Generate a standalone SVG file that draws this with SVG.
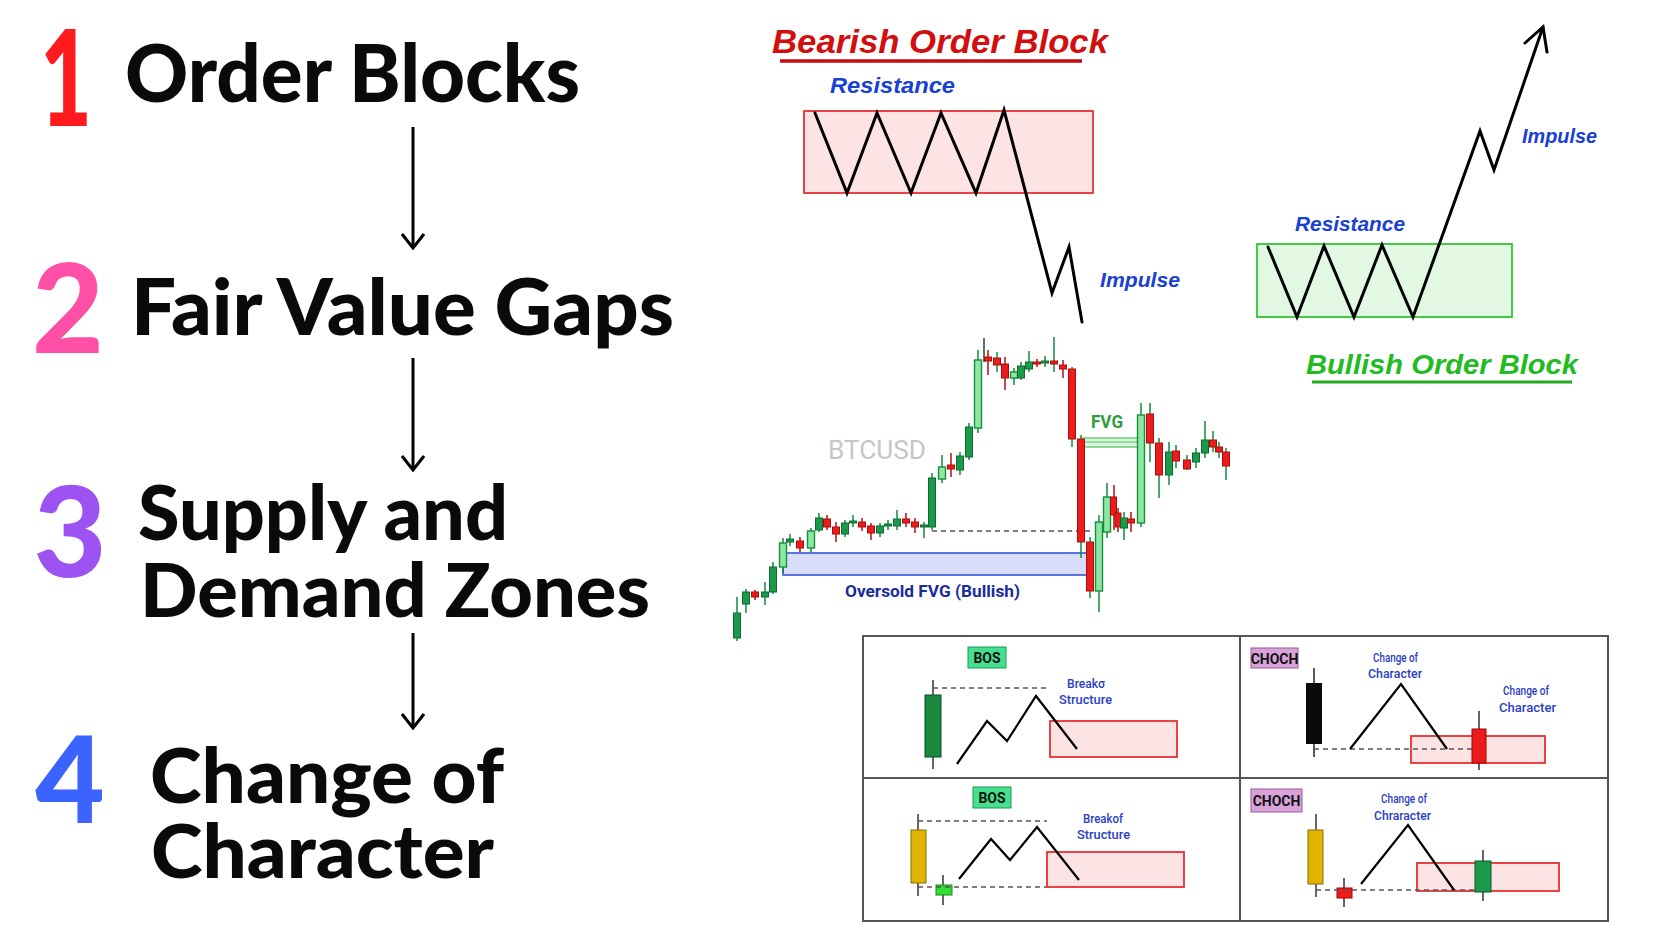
<svg xmlns="http://www.w3.org/2000/svg" width="1672" height="941" viewBox="0 0 1672 941">
<defs>
<style>
.h{font-family:Lato,"Open Sans","Liberation Sans",sans-serif;font-weight:900;fill:#0a0a0a}
.n{font-family:Lato,"Open Sans","Liberation Sans",sans-serif;font-weight:900}
.it{font-family:"Liberation Sans",Arial,sans-serif;font-weight:700;font-style:italic}
.lbl{font-family:Roboto,"Liberation Sans",sans-serif;font-weight:700}
.sm{font-family:Roboto,"Liberation Sans",sans-serif;font-weight:500;fill:#2a40c4}
.zz{fill:none;stroke:#000;stroke-width:3;stroke-linejoin:miter;stroke-linecap:round}
.zs{fill:none;stroke:#000;stroke-width:2.2;stroke-linejoin:miter}
.dash{stroke:#555;stroke-width:1.6;stroke-dasharray:5 4;fill:none}
.w{stroke:#158a3e;stroke-width:1.5}
.wr{stroke:#b01010;stroke-width:1.5}
.g{fill:#1a9a4a;stroke:#0d6a2e;stroke-width:1}
.gl{fill:#8ee6a0;stroke:#139040;stroke-width:1.4}
.r{fill:#ec1c1c;stroke:#a80e0e;stroke-width:1}
.zr{fill:#fde4e4;stroke:#e83030;stroke-width:1.8}
.arr{stroke:#000;stroke-width:3;fill:none}
</style>
<marker id="ah" viewBox="0 0 18 24" refX="16" refY="12" markerWidth="18" markerHeight="24" markerUnits="userSpaceOnUse" orient="auto">
<path d="M2 1 L16 12 L2 23" fill="none" stroke="#000" stroke-width="3"/>
</marker>
</defs>
<rect width="1672" height="941" fill="#ffffff"/>

<!-- Left list nodes -->
<g id="node-1">
<text class="n" x="40" y="126" font-size="134" fill="#ff1a1f" textLength="52" lengthAdjust="spacingAndGlyphs">1</text>
<text class="h" x="125" y="102" font-size="80" textLength="455" lengthAdjust="spacingAndGlyphs">Order Blocks</text>
</g>
<g id="node-2">
<text class="n" x="68" y="353" font-size="124" text-anchor="middle" fill="#ff4fa6">2</text>
<text class="h" x="131" y="335" font-size="78" textLength="543" lengthAdjust="spacingAndGlyphs">Fair Value Gaps</text>
</g>
<g id="node-3">
<text class="n" x="70" y="577" font-size="126" text-anchor="middle" fill="#9d52f2">3</text>
<text class="h" x="138" y="540" font-size="77" textLength="370" lengthAdjust="spacingAndGlyphs">Supply and</text>
<text class="h" x="140" y="617" font-size="74" textLength="510" lengthAdjust="spacingAndGlyphs">Demand Zones</text>
</g>
<g id="node-4">
<text class="n" x="70" y="823" font-size="120" text-anchor="middle" fill="#3a63ff">4</text>
<text class="h" x="150" y="803" font-size="76" textLength="354" lengthAdjust="spacingAndGlyphs">Change of</text>
<text class="h" x="151" y="878" font-size="74" textLength="343" lengthAdjust="spacingAndGlyphs">Character</text>
</g>

<g id="connectors">
<line class="arr" x1="413" y1="127" x2="413" y2="248" marker-end="url(#ah)"/>
<line class="arr" x1="413" y1="358" x2="413" y2="470" marker-end="url(#ah)"/>
<line class="arr" x1="413" y1="633" x2="413" y2="728" marker-end="url(#ah)"/>
</g>

<!-- Bearish order block -->
<g id="bearish-ob">
<text class="it" x="772" y="53" font-size="34" fill="#d10f0f" textLength="336" lengthAdjust="spacingAndGlyphs">Bearish Order Block</text>
<line x1="780" y1="61" x2="1082" y2="61" stroke="#c40c0c" stroke-width="3.5"/>
<text class="it" x="830" y="93" font-size="22" fill="#1740d6" textLength="125" lengthAdjust="spacingAndGlyphs">Resistance</text>
<rect class="zr" x="804" y="111" width="289" height="82"/>
<polyline class="zz" points="815,113 847,193 877,113 911,193 941,113 976,193 1004,110 1052,293 1069,247 1082,322"/>
<text class="it" x="1100" y="287" font-size="20" fill="#1740d6" textLength="80" lengthAdjust="spacingAndGlyphs">Impulse</text>
</g>

<!-- Bullish order block -->
<g id="bullish-ob">
<text class="it" x="1295" y="231" font-size="20" fill="#1740d6" textLength="110" lengthAdjust="spacingAndGlyphs">Resistance</text>
<rect x="1257" y="244" width="255" height="73" fill="#e2f8e2" stroke="#33c433" stroke-width="1.8"/>
<polyline class="zz" points="1268,247 1297,317 1324,246 1354,317 1382,245 1413,317 1480,131 1494,170 1543,27"/>
<polyline class="zz" points="1525,43 1543,27 1547,52"/>
<text class="it" x="1522" y="143" font-size="20" fill="#1740d6" textLength="75" lengthAdjust="spacingAndGlyphs">Impulse</text>
<text class="it" x="1306" y="374" font-size="28" fill="#22bb22" textLength="272" lengthAdjust="spacingAndGlyphs">Bullish Order Block</text>
<line x1="1312" y1="382" x2="1572" y2="382" stroke="#22aa22" stroke-width="3"/>
</g>

<!-- BTCUSD chart -->
<g id="btc-chart">
<text x="828" y="459" font-family="Roboto,'Liberation Sans',sans-serif" font-size="26" fill="#c6c6c6" textLength="98" lengthAdjust="spacingAndGlyphs">BTCUSD</text>
<rect x="783" y="553" width="310" height="22" fill="#d8def9" stroke="#3656e0" stroke-width="1.6"/>
<line class="dash" x1="932" y1="531" x2="1093" y2="531"/>
<rect x="1083" y="438" width="55" height="9" fill="#dcf5dc" stroke="#4cc45c" stroke-width="1.2"/>
<line x1="1083" y1="442" x2="1138" y2="442" stroke="#4cc45c" stroke-width="1"/>
<text class="lbl" x="1091" y="428" font-size="18" fill="#2e9e3e" textLength="32" lengthAdjust="spacingAndGlyphs">FVG</text>
<text class="lbl" x="845" y="597" font-size="17" fill="#1a2c9c" textLength="175" lengthAdjust="spacingAndGlyphs">Oversold FVG (Bullish)</text>
<g id="candles">
<line class="w" x1="737" y1="597" x2="737" y2="641"/><rect class="g" x="733.5" y="613" width="7" height="25"/>
<line class="w" x1="746" y1="589" x2="746" y2="613"/><rect class="g" x="742.5" y="592" width="7" height="12"/>
<line class="wr" x1="755" y1="590" x2="755" y2="600"/><rect class="r" x="751.5" y="592" width="7" height="5"/>
<line class="w" x1="765" y1="582" x2="765" y2="605"/><rect class="g" x="761.5" y="592" width="7" height="5"/>
<line class="w" x1="773" y1="562" x2="773" y2="594"/><rect class="g" x="769.5" y="567" width="7" height="25"/>
<line class="w" x1="783" y1="538" x2="783" y2="573"/><rect class="gl" x="779.5" y="543" width="7" height="24"/>
<line class="w" x1="790" y1="534" x2="790" y2="546"/><rect class="g" x="786.5" y="539" width="7" height="3"/>
<line class="wr" x1="800" y1="537" x2="800" y2="552"/><rect class="r" x="796.5" y="541" width="7" height="7"/>
<line class="w" x1="811" y1="528" x2="811" y2="552"/><rect class="gl" x="807.5" y="531" width="7" height="17"/>
<line class="w" x1="819" y1="513" x2="819" y2="532"/><rect class="g" x="815.5" y="518" width="7" height="12"/>
<line class="wr" x1="827" y1="515" x2="827" y2="530"/><rect class="r" x="823.5" y="519" width="7" height="8"/>
<line class="wr" x1="836" y1="522" x2="836" y2="542"/><rect class="r" x="832.5" y="527" width="7" height="7"/>
<line class="w" x1="845" y1="520" x2="845" y2="537"/><rect class="g" x="841.5" y="523" width="7" height="11"/>
<line class="w" x1="853" y1="515" x2="853" y2="527"/><rect class="g" x="849.5" y="521" width="7" height="2"/>
<line class="wr" x1="862" y1="518" x2="862" y2="531"/><rect class="r" x="858.5" y="522" width="7" height="5"/>
<line class="wr" x1="871" y1="523" x2="871" y2="540"/><rect class="r" x="867.5" y="526" width="7" height="7"/>
<line class="w" x1="880" y1="523" x2="880" y2="537"/><rect class="g" x="876.5" y="526" width="7" height="7"/>
<line class="w" x1="888" y1="520" x2="888" y2="530"/><rect class="g" x="884.5" y="524" width="7" height="2"/>
<line class="w" x1="897" y1="510" x2="897" y2="530"/><rect class="g" x="893.5" y="519" width="7" height="7"/>
<line class="wr" x1="906" y1="513" x2="906" y2="527"/><rect class="r" x="902.5" y="519" width="7" height="4"/>
<line class="wr" x1="915" y1="518" x2="915" y2="533"/><rect class="r" x="911.5" y="522" width="7" height="5"/>
<line class="w" x1="924" y1="522" x2="924" y2="538"/><rect class="g" x="920.5" y="525" width="7" height="2"/>
<line class="w" x1="932" y1="473" x2="932" y2="530"/><rect class="g" x="928.5" y="478" width="7" height="49"/>
<line class="w" x1="942" y1="455" x2="942" y2="483"/><rect class="gl" x="938.5" y="467" width="7" height="12"/>
<line class="wr" x1="951" y1="453" x2="951" y2="477"/><rect class="r" x="947.5" y="465" width="7" height="4"/>
<line class="w" x1="960" y1="452" x2="960" y2="475"/><rect class="g" x="956.5" y="456" width="7" height="14"/>
<line class="w" x1="969" y1="423" x2="969" y2="460"/><rect class="g" x="965.5" y="427" width="7" height="30"/>
<line class="w" x1="978" y1="350" x2="978" y2="433"/><rect class="gl" x="974.5" y="360" width="7" height="68"/>
<line x1="984" y1="338" x2="984" y2="362" stroke="#1d4d2d" stroke-width="1.5"/>
<line class="wr" x1="988" y1="350" x2="988" y2="375"/><rect class="r" x="984.5" y="357" width="7" height="4"/>
<line class="w" x1="997" y1="352" x2="997" y2="372"/><rect class="r" x="993.5" y="358" width="7" height="7"/>
<line class="wr" x1="1005" y1="357" x2="1005" y2="390"/><rect class="r" x="1001.5" y="364" width="7" height="14"/>
<line class="w" x1="1014" y1="368" x2="1014" y2="385"/><rect class="gl" x="1010.5" y="372" width="7" height="6"/>
<line class="w" x1="1021" y1="362" x2="1021" y2="380"/><rect class="g" x="1017.5" y="366" width="7" height="12"/>
<line class="w" x1="1029" y1="351" x2="1029" y2="372"/><rect class="g" x="1025.5" y="362" width="7" height="7"/>
<line class="wr" x1="1037" y1="359" x2="1037" y2="367"/><rect class="r" x="1033.5" y="362" width="7" height="2"/>
<line class="w" x1="1045" y1="356" x2="1045" y2="367"/><rect class="g" x="1041.5" y="361" width="7" height="2"/>
<line class="w" x1="1054" y1="337" x2="1054" y2="372"/><rect class="r" x="1050.5" y="361" width="7" height="3"/>
<line class="wr" x1="1063" y1="360" x2="1063" y2="378"/><rect class="r" x="1059.5" y="365" width="7" height="4"/>
<line class="w" x1="1072" y1="367" x2="1072" y2="447"/><rect class="r" x="1068.5" y="369" width="7" height="70"/>
<line class="w" x1="1081" y1="435" x2="1081" y2="558"/><rect class="r" x="1077.5" y="439" width="7" height="103"/>
<line class="w" x1="1090" y1="537" x2="1090" y2="598"/><rect class="r" x="1086.5" y="542" width="7" height="49"/>
<line class="w" x1="1099" y1="515" x2="1099" y2="612"/><rect class="gl" x="1095.5" y="522" width="7" height="69"/>
<line class="w" x1="1107" y1="483" x2="1107" y2="538"/><rect class="gl" x="1103.5" y="497" width="7" height="35"/>
<line class="wr" x1="1114" y1="485" x2="1114" y2="530"/><rect class="r" x="1110.5" y="497" width="6" height="18"/>
<line class="wr" x1="1118" y1="508" x2="1118" y2="532"/><rect class="r" x="1115" y="513" width="6" height="14"/>
<line class="w" x1="1124" y1="512" x2="1124" y2="540"/><rect class="g" x="1120.5" y="518" width="7" height="10"/>
<line class="wr" x1="1131" y1="512" x2="1131" y2="532"/><rect class="r" x="1127.5" y="519" width="7" height="4"/>
<line class="w" x1="1141" y1="403" x2="1141" y2="527"/><rect class="gl" x="1137.5" y="415" width="7" height="108"/>
<line class="w" x1="1150" y1="403" x2="1150" y2="462"/><rect class="r" x="1146.5" y="414" width="7" height="29"/>
<line class="w" x1="1159" y1="438" x2="1159" y2="498"/><rect class="r" x="1155.5" y="443" width="7" height="32"/>
<line class="w" x1="1169" y1="442" x2="1169" y2="485"/><rect class="g" x="1165.5" y="452" width="7" height="23"/>
<line class="w" x1="1176" y1="445" x2="1176" y2="468"/><rect class="r" x="1172.5" y="451" width="7" height="10"/>
<line class="w" x1="1187" y1="455" x2="1187" y2="470"/><rect class="r" x="1183.5" y="460" width="7" height="9"/>
<line class="w" x1="1196" y1="448" x2="1196" y2="468"/><rect class="g" x="1192.5" y="453" width="7" height="9"/>
<line class="w" x1="1205" y1="421" x2="1205" y2="458"/><rect class="g" x="1201.5" y="440" width="7" height="13"/>
<line class="w" x1="1213" y1="431" x2="1213" y2="452"/><rect class="r" x="1209.5" y="440" width="7" height="7"/>
<line class="w" x1="1219" y1="442" x2="1219" y2="458"/><rect class="r" x="1215.5" y="447" width="7" height="5"/>
<line class="w" x1="1226" y1="448" x2="1226" y2="480"/><rect class="r" x="1222.5" y="452" width="7" height="14"/>
</g>
</g>

<!-- BOS / CHOCH panel -->
<g id="panel">
<rect x="863" y="636" width="745" height="285" fill="#ffffff" stroke="#555" stroke-width="2"/>
<line x1="1240" y1="636" x2="1240" y2="921" stroke="#555" stroke-width="2"/>
<line x1="863" y1="778" x2="1608" y2="778" stroke="#555" stroke-width="2"/>
</g>

<g id="cell-bos-1">
<rect x="968" y="647" width="38" height="21" fill="#44e08e" stroke="#1f9a55" stroke-width="1"/>
<text class="lbl" x="987" y="663" font-size="14" text-anchor="middle" fill="#111">BOS</text>
<line x1="933" y1="680" x2="933" y2="769" stroke="#333" stroke-width="1.5"/>
<rect x="925" y="695" width="16" height="62" fill="#18893f" stroke="#0b4f24" stroke-width="1"/>
<line class="dash" x1="933" y1="688" x2="1047" y2="688"/>
<rect class="zr" x="1050" y="721" width="127" height="36"/>
<polyline class="zs" points="957,764 987,721 1007,741 1036,696 1077,749"/>
<text class="sm" x="1067" y="688" font-size="12" textLength="38" lengthAdjust="spacingAndGlyphs">Breakσ</text>
<text class="sm" x="1059" y="704" font-size="13" textLength="53" lengthAdjust="spacingAndGlyphs">Structure</text>
</g>

<g id="cell-choch-1">
<rect x="1251" y="648" width="47" height="20" fill="#d9a3d9" stroke="#9a5a9a" stroke-width="1"/>
<text class="lbl" x="1274.5" y="664" font-size="14" text-anchor="middle" fill="#111">CHOCH</text>
<line x1="1314" y1="668" x2="1314" y2="757" stroke="#222" stroke-width="1.5"/>
<rect x="1306" y="683" width="16" height="61" fill="#0a0a0a"/>
<rect class="zr" x="1411" y="736" width="134" height="27"/>
<line class="dash" x1="1314" y1="749" x2="1472" y2="749"/>
<polyline class="zs" points="1350,749 1401,684 1447,749"/>
<line x1="1479" y1="711" x2="1479" y2="770" stroke="#333" stroke-width="1.5"/>
<rect x="1472" y="729" width="14" height="34" fill="#ec1c1c" stroke="#a00" stroke-width="1"/>
<text class="sm" x="1373" y="662" font-size="12" textLength="45" lengthAdjust="spacingAndGlyphs">Change of</text>
<text class="sm" x="1368" y="678" font-size="13" textLength="54" lengthAdjust="spacingAndGlyphs">Character</text>
<text class="sm" x="1503" y="695" font-size="12" textLength="46" lengthAdjust="spacingAndGlyphs">Change of</text>
<text class="sm" x="1499" y="712" font-size="13" textLength="57" lengthAdjust="spacingAndGlyphs">Character</text>
</g>

<g id="cell-bos-2">
<rect x="973" y="787" width="38" height="21" fill="#44e08e" stroke="#1f9a55" stroke-width="1"/>
<text class="lbl" x="992" y="803" font-size="14" text-anchor="middle" fill="#111">BOS</text>
<line x1="918" y1="814" x2="918" y2="896" stroke="#333" stroke-width="1.5"/>
<rect x="911" y="830" width="15" height="53" fill="#e0b400" stroke="#8a6d00" stroke-width="1"/>
<line x1="943" y1="875" x2="943" y2="905" stroke="#333" stroke-width="1.5"/>
<rect x="936" y="885" width="16" height="10" fill="#33dd33" stroke="#168a16" stroke-width="1"/>
<line class="dash" x1="918" y1="821" x2="1047" y2="821"/>
<line class="dash" x1="918" y1="887" x2="1047" y2="887"/>
<rect class="zr" x="1047" y="852" width="137" height="35"/>
<polyline class="zs" points="959,879 991,839 1010,860 1037,827 1079,880"/>
<text class="sm" x="1083" y="823" font-size="12" textLength="40" lengthAdjust="spacingAndGlyphs">Breakof</text>
<text class="sm" x="1077" y="839" font-size="13" textLength="53" lengthAdjust="spacingAndGlyphs">Structure</text>
</g>

<g id="cell-choch-2">
<rect x="1251" y="789" width="51" height="23" fill="#d9a3d9" stroke="#9a5a9a" stroke-width="1"/>
<text class="lbl" x="1276.5" y="806" font-size="14" text-anchor="middle" fill="#111">CHOCH</text>
<line x1="1316" y1="814" x2="1316" y2="897" stroke="#333" stroke-width="1.5"/>
<rect x="1308" y="830" width="15" height="54" fill="#e0b400" stroke="#8a6d00" stroke-width="1"/>
<line x1="1344" y1="878" x2="1344" y2="907" stroke="#333" stroke-width="1.5"/>
<rect x="1337" y="888" width="15" height="10" fill="#ec1c1c" stroke="#a00" stroke-width="1"/>
<rect class="zr" x="1417" y="863" width="142" height="28"/>
<line class="dash" x1="1316" y1="890" x2="1475" y2="890"/>
<polyline class="zs" points="1361,884 1408,825 1454,890"/>
<line x1="1483" y1="850" x2="1483" y2="901" stroke="#333" stroke-width="1.5"/>
<rect x="1475" y="861" width="16" height="31" fill="#1a9a4a" stroke="#0b5a28" stroke-width="1"/>
<text class="sm" x="1381" y="803" font-size="12" textLength="46" lengthAdjust="spacingAndGlyphs">Change of</text>
<text class="sm" x="1374" y="820" font-size="13" textLength="57" lengthAdjust="spacingAndGlyphs">Chraracter</text>
</g>
</svg>
